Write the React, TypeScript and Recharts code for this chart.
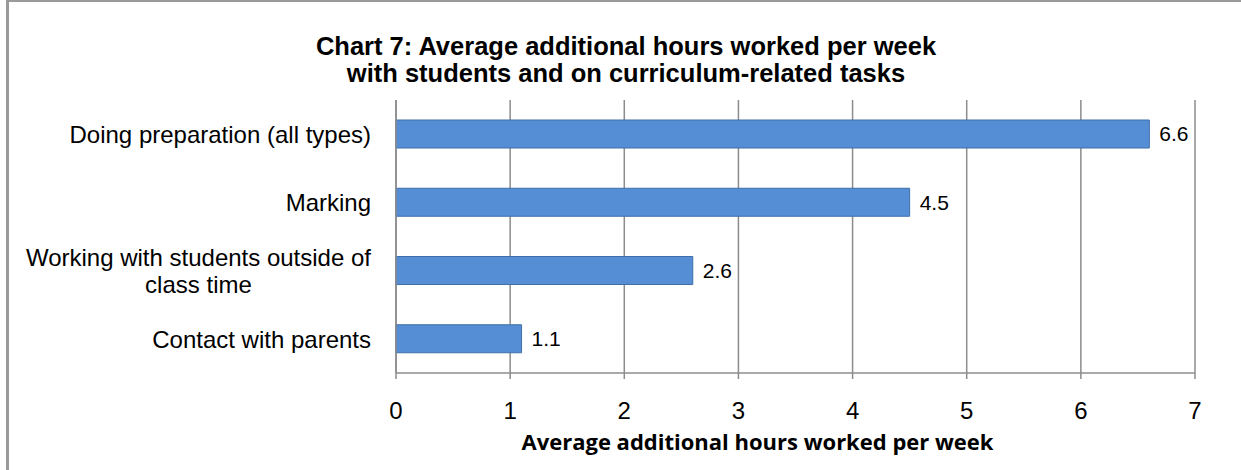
import { BarChart, Bar, XAxis, YAxis, CartesianGrid, LabelList } from 'recharts';

const categories = [
  'Doing preparation (all types)',
  'Marking',
  'Working with students outside of\nclass time',
  'Contact with parents',
];
const hours = [6.6, 4.5, 2.6, 1.1];
const xTicks = [0, 1, 2, 3, 4, 5, 6, 7];
const bandEdges = [0, 1, 2, 3, 4];

const titleLines = [
  'Chart 7: Average additional hours worked per week',
  'with students and on curriculum-related tasks',
];
const xAxisTitle = 'Average additional hours worked per week';

const data = categories.map((name, i) => ({ name, value: hours[i] }));

const FONT = '"Liberation Sans", Arial, sans-serif';
const GRID = '#8c8c8c';
const CAT_SIZE = 24;

let ctx: CanvasRenderingContext2D | null = null;
function textWidth(s: string) {
  if (!ctx) ctx = document.createElement('canvas').getContext('2d');
  if (!ctx) return s.length * 12;
  ctx.font = `${CAT_SIZE}px ${FONT}`;
  return ctx.measureText(s).width;
}

function CategoryTick({ x, y, payload }: any) {
  const lines: string[] = String(payload.value).split('\n');
  if (lines.length === 1) {
    return (
      <text x={x} y={y} dy="0.36em" textAnchor="end" fontSize={CAT_SIZE} fontFamily={FONT} fill="#000">
        {lines[0]}
      </text>
    );
  }
  const w = Math.max(...lines.map(textWidth));
  const lh = 27;
  const top = y - ((lines.length - 1) * lh) / 2;
  return (
    <text textAnchor="middle" fontSize={CAT_SIZE} fontFamily={FONT} fill="#000">
      {lines.map((l, i) => (
        <tspan key={i} x={x - w / 2} y={top + i * lh} dy="0.36em">
          {l}
        </tspan>
      ))}
    </text>
  );
}

function AxisTitle({ viewBox }: any) {
  const cx = viewBox.x + viewBox.width / 2 - 38;
  return (
    <text
      x={cx}
      y={viewBox.y + 77}
      textAnchor="middle"
      fontSize={22}
      fontWeight="bold"
      fontFamily="'Open Sans', Lato, sans-serif"
      fill="#000"
    >
      {xAxisTitle}
    </text>
  );
}

export default function App() {
  return (
    <div style={{ position: 'absolute', left: 0, top: 0, width: 1241, height: 470, background: '#fff', overflow: 'hidden' }}>
      <div
        style={{
          position: 'absolute',
          left: 6,
          top: 0,
          width: 1233,
          height: 480,
          borderLeft: '3px solid #9a9a9a',
          borderTop: '2px solid #9a9a9a',
          borderRight: '1px solid #dcdcdc',
        }}
      />
      {titleLines.map((l, i) => (
        <div
          key={i}
          style={{
            position: 'absolute',
            left: 0,
            top: 33 + i * 27,
            width: 1252,
            textAlign: 'center',
            fontFamily: FONT,
            fontWeight: 'bold',
            fontSize: 25.5,
            lineHeight: '27px',
            color: '#000',
          }}
        >
          {l}
        </div>
      ))}
      <div style={{ position: 'absolute', left: 0, top: 0 }}>
        <BarChart
          width={1241}
          height={470}
          data={data}
          layout="vertical"
          margin={{ top: 100, right: 46, bottom: 37, left: 0 }}
        >
          <CartesianGrid horizontal={false} stroke={GRID} strokeWidth={1.5} />
          <XAxis
            type="number"
            domain={[0, 7]}
            ticks={xTicks}
            interval={0}
            height={60}
            stroke={GRID}
            strokeWidth={1.5}
            tickSize={6}
            tickMargin={23}
            tick={{ fontSize: 24, fontFamily: FONT, fill: '#000' }}
            label={<AxisTitle />}
          />
          <YAxis
            yAxisId="cat"
            type="category"
            dataKey="name"
            width={396}
            axisLine={{ stroke: GRID, strokeWidth: 1.5 }}
            tickLine={false}
            tickSize={0}
            tickMargin={25}
            tick={<CategoryTick />}
            interval={0}
          />
          <YAxis
            yAxisId="edges"
            type="number"
            domain={[0, 4]}
            ticks={bandEdges}
            interval={0}
            width={0}
            axisLine={false}
            tickSize={8}
            tickLine={{ stroke: GRID, strokeWidth: 1.5 }}
            tick={false}
          />
          <Bar
            yAxisId="cat"
            dataKey="value"
            barSize={28}
            fill="#558ed5"
            stroke="#3f6fa8"
            strokeWidth={1}
            isAnimationActive={false}
          >
            <LabelList
              dataKey="value"
              position="right"
              offset={10}
              style={{ fontSize: 21, fontFamily: FONT, fill: '#000' }}
            />
          </Bar>
        </BarChart>
      </div>
    </div>
  );
}
